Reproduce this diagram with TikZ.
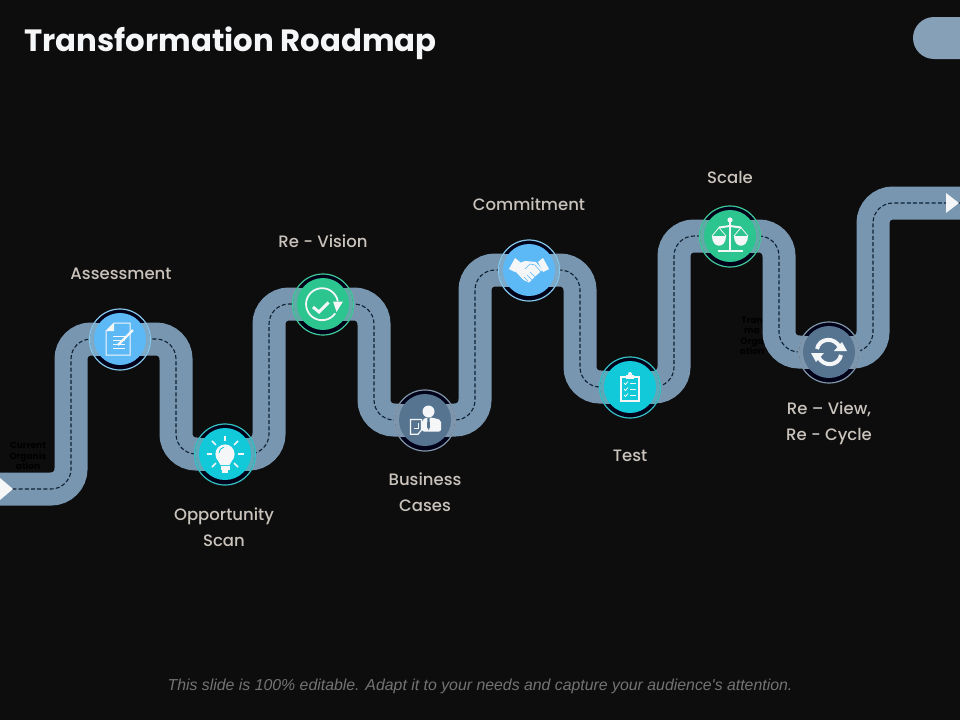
\documentclass[tikz,border=0pt]{standalone}
\usepackage{fontspec}
\usepackage{xcolor}
\usepackage{tikz}
\setmainfont{Poppins}
\newfontfamily\labelfont{Poppins Medium}
\newfontfamily\footfont{Liberation Sans}
\definecolor{pagebg}{HTML}{0D0D0E}
\definecolor{roadblue}{HTML}{7896B0}
\definecolor{dashnavy}{HTML}{0F2033}
\definecolor{labelgrey}{HTML}{C9C3BC}
\definecolor{iconwhite}{HTML}{F4F6F8}
\definecolor{skyfill}{HTML}{5DB9F6}
\definecolor{skyring}{HTML}{86C8EC}
\definecolor{cyanfill}{HTML}{12C9DA}
\definecolor{cyanring}{HTML}{35C2C6}
\definecolor{greenfill}{HTML}{2CC48F}
\definecolor{greenring}{HTML}{3FC99A}
\definecolor{slatefill}{HTML}{56748F}
\definecolor{slatering}{HTML}{8296AA}
\tikzset{
  road/.style={draw=roadblue, line width=33pt, rounded corners=20pt},
  roaddash/.style={draw=dashnavy, line width=1.1pt, dash pattern=on 4pt off 2.2pt, rounded corners=20pt},
  stop/.style={circle, minimum size=52pt, inner sep=0pt},
  halo/.style={circle, minimum size=61pt, inner sep=0pt, line width=1.2pt},
  steplabel/.style={text=labelgrey, align=center, font=\labelfont\fontsize{16.5}{26}\selectfont},
  hidden/.style={text=black, align=center, font=\fontsize{9}{10.4}\selectfont\bfseries},
  icon/.style={draw=iconwhite, line width=1pt, fill=none},
  iconfill/.style={fill=iconwhite, draw=none},
  docicon/.pic={
    \draw[icon] (-14,-8) -- (-6,-16) -- (10,-16) -- (10,16) -- (-14,16) -- cycle;
    \fill[iconfill] (-14,-8) -- (-6,-8) -- (-6,-16) -- cycle;
    \foreach \y in {-3,1,5,9} \draw[icon] (-7,\y) -- (5,\y);
    \draw[iconwhite, line width=2.2pt] (-2,6) -- (13,-9);
  },
  bulbicon/.pic={
    \fill[iconfill] (0,0) circle (9.6);
    \fill[iconfill] (-8.5,4) -- (8.5,4) -- (4.5,11) -- (-4.5,11) -- cycle;
    \fill[iconfill] (-4.5,12) rectangle (4.5,15.5);
    \fill[iconfill] (-3,16) rectangle (3,18.5);
    \draw[draw=cyanfill, line width=0.8pt] (-6,-1) arc[start angle=180, end angle=260, radius=6];
    \foreach \a in {0,45,135,180,225,270,315}
      \draw[iconwhite, line width=1.5pt] (\a:12.8) -- (\a:18.5);
  },
  checkicon/.pic={
    \draw[iconwhite, line width=1.8pt] (14.8,-2.6) arc[start angle=-10, end angle=-325, radius=16];
    \fill[iconfill] (10,-2.5) -- (20,-2.5) -- (13.5,8) -- cycle;
    \draw[iconwhite, line width=3pt] (-10,3) -- (-4,8) -- (5.5,-1.5);
  },
  personicon/.pic={
    \fill[iconfill] (3.5,-8.5) circle (6);
    \fill[iconfill, rounded corners=2pt] (-3,11.5) -- (-3,0) -- (1,-2.5) -- (7,-2.5) -- (16,0) -- (16,11.5) -- cycle;
    \fill[slatefill] (2.5,-2.5) -- (4.5,-2.5) -- (5,7) -- (3.5,10) -- (2,7) -- cycle;
    \fill[slatefill] (-15.5,-2) rectangle (-3,15.5);
    \draw[icon, line width=1.2pt] (-14.5,-0.5) -- (-3.5,-0.5) -- (-3.5,10) -- (-7,14.2) -- (-14.5,14.2) -- cycle;
    \draw[iconwhite, line width=0.8pt] (-11,8) -- (-7,8) -- (-7,3);
  },
  shakeicon/.pic={
    \fill[iconfill] (-20,-1) -- (-14,-12) -- (-9,-8) -- (-14,2) -- cycle;
    \fill[iconfill] (20,-1) -- (14,-12) -- (9,-8) -- (14,2) -- cycle;
    \fill[iconfill] (-10,-7) -- (-3.5,-9) -- (7,-8) -- (13.5,0) -- (5.5,7) -- (0,12.5) -- (-5.5,10) -- (-14,1) -- cycle;
    \draw[skyfill, line width=0.6pt] (-4,-1) -- (1,-6) -- (6,-5) -- (12,2);
    \draw[skyfill, line width=0.6pt] (1,2) -- (6,7) (-2,5) -- (3,10) (-5,7) -- (-1,11);
  },
  clipicon/.pic={
    \draw[icon, line width=1.2pt] (-9,-10) rectangle (9,14);
    \fill[iconfill] (-4,-12) rectangle (4,-8);
    \fill[iconfill] (0,-13) circle (2);
    \foreach \y in {-4,2,8} {
      \draw[iconwhite, line width=0.8pt] (-6,\y) -- (-4.5,\y+1.5) -- (-2,\y-1.5);
      \draw[iconwhite, line width=1pt] (0,\y) -- (6,\y);
    }
  },
  scaleicon/.pic={
    \draw[iconwhite, line width=2.6pt] (0,-15) -- (0,14);
    \draw[iconwhite, line width=2pt] (-12.5,14.5) -- (12.5,14.5);
    \draw[iconwhite, line width=2pt] (-11,-8.5) -- (0,-10) -- (11,-8.5);
    \fill[iconfill] (0,-16) circle (2.6);
    \foreach \s in {-1,1} {
      \draw[iconwhite, line width=0.8pt] (\s*18,0) -- (\s*11,-8.5) -- (\s*4,0);
      \fill[iconfill] (\s*18,0) .. controls (\s*18,13) and (\s*4,13) .. (\s*4,0) -- cycle;
    }
  },
  cycleicon/.pic={
    \draw[iconwhite, line width=4pt] (-12,-3) .. controls (-10,-14) and (6,-16) .. (11,-4);
    \draw[iconwhite, line width=4pt] (12,3) .. controls (10,14) and (-6,16) .. (-11,4);
    \fill[iconfill] (5,-1) -- (18,-1) -- (13,-10) -- cycle;
    \fill[iconfill] (-5,1) -- (-18,1) -- (-13,10) -- cycle;
  },
}
\newcommand{\roadpath}{(roadin) -- (c1) -- (c2) -- (c3) -- (c4) -- (c5) -- (c6) -- (c7) -- (c8) -- (c9) -- (c10) -- (c11) -- (c12) -- (c13) -- (c14) -- (c15) -- (c16) -- (c17) -- (c18) -- (roadout)}

\begin{document}
\begin{tikzpicture}[x=1pt, y=-1pt]
  \useasboundingbox (0,0) rectangle (960,720);
  \fill[pagebg] (0,0) rectangle (960,720);

  \node[anchor=west, text=iconwhite, font=\fontsize{30.8}{36}\selectfont\bfseries] (title) at (21,43) {Transformation Roadmap};
  \fill[roadblue!90!white, rounded corners=21pt] (913,17) rectangle (1000,59);

  % words the road partly hides
  \node[hidden] (hiddenleft) at (28,456) {Current\\Organis\\ation};
  \node[hidden] (hiddenright) at (752,336) {Tran\\ma\\Orga\\ation};

  \coordinate (roadin) at (0,489);
  \coordinate (roadout) at (960,203);
  \foreach \n/\x/\y in {1/71/489, 2/71/339, 3/176/339, 4/176/454, 5/269/454, 6/269/304, 7/374/304, 8/374/420,
                        9/475/420, 10/475/270, 11/580/270, 12/580/387, 13/674/387, 14/674/236, 15/779/236,
                        16/779/352, 17/873/352, 18/873/203}
    \coordinate (c\n) at (\x,\y);
  \draw[road] \roadpath;
  \draw[roaddash] \roadpath;

  \fill[iconwhite] (0,478) -- (13,489) -- (0,500) -- cycle;
  \fill[iconwhite] (946,193) -- (959,203) -- (946,213) -- cycle;

  % the eight stops
  \foreach \name/\x/\y/\fillc/\ringc/\iconname in {assess/120/339/skyfill/skyring/docicon, oppor/225/454/cyanfill/cyanring/bulbicon,
      vision/323/304/greenfill/greenring/checkicon, business/425/420/slatefill/slatering/personicon,
      commit/529/270/skyfill/skyring/shakeicon, test/630/387/cyanfill/cyanring/clipicon,
      scale/730/236/greenfill/greenring/scaleicon, review/829/352/slatefill/slatering/cycleicon} {
    \fill[black!90!blue] (\x,\y+0.5) circle (30);
    \begin{scope}
      \clip (\x,\y+0.5) circle (30);
      \fill[\ringc!40!roadblue] (\x-31,\y-16.5) rectangle (\x+31,\y+16.5);
    \end{scope}
    \node[halo, draw=\ringc] (\name ring) at (\x,\y+0.5) {};
    \node[stop, fill=\fillc] (\name) at (\x,\y) {};
    \pic at (\name) {\iconname};
  }

  \node[steplabel] (assesslabel) at (121,274) {Assessment};
  \node[steplabel] (opporlabel) at (224,527) {Opportunity\\Scan};
  \node[steplabel] (visionlabel) at (323,241) {Re - Vision};
  \node[steplabel] (businesslabel) at (425,492) {Business\\Cases};
  \node[steplabel] (commitlabel) at (529,204) {Commitment};
  \node[steplabel] (testlabel) at (630,456) {Test};
  \node[steplabel] (scalelabel) at (730,177) {Scale};
  \node[steplabel] (reviewlabel) at (829,423) {Re – View,\\Re - Cycle};

  \node[text=black!55, font=\footfont\itshape\fontsize{15.85}{18}\selectfont] (note) at (480,686)
    {This slide is 100\% editable. Adapt it to your needs and capture your audience's attention.};
\end{tikzpicture}
\end{document}
